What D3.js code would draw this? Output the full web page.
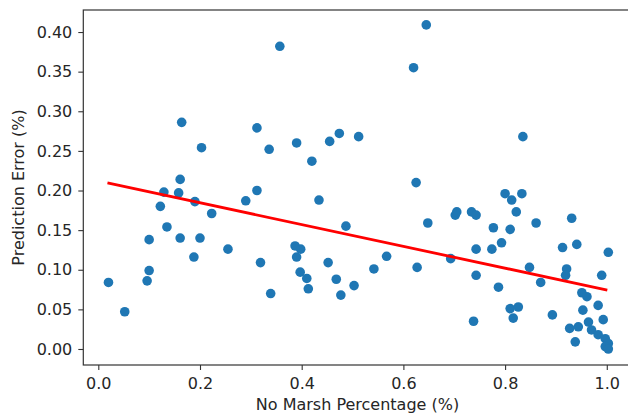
<!DOCTYPE html>
<html><head><meta charset="utf-8">
<script src="https://cdn.jsdelivr.net/npm/d3@7"></script>
<style>
body{margin:0;background:#fff;}
svg{display:block;font-family:"DejaVu Sans",sans-serif;}
</style></head>
<body><svg id="chart" width="628" height="420"></svg>
<script>
const xVals = [0.020,0.052,0.096,0.100,0.100,0.122,0.129,0.135,0.161,0.158,0.161,0.164,0.188,0.190,0.200,0.203,0.223,0.255,0.290,0.312,0.312,0.319,0.336,0.339,0.357,0.390,0.387,0.398,0.390,0.397,0.410,0.413,0.420,0.434,0.452,0.455,0.468,0.474,0.477,0.487,0.503,0.512,0.542,0.567,0.620,0.625,0.627,0.645,0.648,0.693,0.702,0.705,0.734,0.743,0.738,0.743,0.743,0.774,0.777,0.787,0.793,0.800,0.810,0.810,0.813,0.816,0.822,0.826,0.833,0.835,0.848,0.861,0.870,0.893,0.913,0.921,0.919,0.931,0.941,1.003,0.990,0.951,0.961,0.983,0.953,0.993,0.927,0.944,0.964,0.970,0.983,0.997,1.003,0.997,1.003,0.938];
const yVals = [0.084,0.047,0.086,0.099,0.138,0.180,0.198,0.154,0.214,0.197,0.140,0.286,0.116,0.186,0.140,0.254,0.171,0.126,0.187,0.279,0.200,0.109,0.252,0.070,0.382,0.260,0.130,0.126,0.116,0.097,0.089,0.076,0.237,0.188,0.109,0.262,0.088,0.272,0.068,0.155,0.080,0.268,0.101,0.117,0.355,0.210,0.103,0.409,0.159,0.114,0.169,0.173,0.173,0.169,0.035,0.126,0.093,0.126,0.153,0.078,0.134,0.196,0.151,0.051,0.188,0.039,0.173,0.053,0.196,0.268,0.103,0.159,0.084,0.043,0.128,0.101,0.093,0.165,0.132,0.122,0.093,0.071,0.066,0.055,0.049,0.037,0.026,0.028,0.034,0.024,0.018,0.013,0.007,0.003,0.000,0.009];
const fitX = [0.018, 1.001];
const fitY = [0.2095, 0.0744];
const xTicks = [0.0,0.2,0.4,0.6,0.8,1.0];
const yTicks = [0.00,0.05,0.10,0.15,0.20,0.25,0.30,0.35,0.40];
const xLabel = "No Marsh Percentage (%)";
const yLabel = "Prediction Error (%)";

const svg = d3.select("#chart");
const L = 83.3, R = 631.7, T = 10, B = 365;
const x = d3.scaleLinear().domain([-0.0295, 1.049]).range([L, R]);
const y = d3.scaleLinear().domain([-0.0202, 0.4278]).range([B, T]);

const gx = svg.append("g").attr("transform",`translate(0,${B})`)
  .call(d3.axisBottom(x).tickValues(xTicks).tickFormat(d3.format(".1f")).tickSizeOuter(0).tickSize(5).tickPadding(8));
const gy = svg.append("g").attr("transform",`translate(${L},0)`)
  .call(d3.axisLeft(y).tickValues(yTicks).tickFormat(d3.format(".2f")).tickSizeOuter(0).tickSize(5).tickPadding(6));
[gx,gy].forEach(g=>{
  g.selectAll("text").attr("font-size",16).attr("fill","#262626").attr("font-family","DejaVu Sans");
  g.selectAll("line").attr("stroke","#333").attr("stroke-width",1.1);
  g.select(".domain").remove();
});
svg.append("rect").attr("x",L).attr("y",T).attr("width",R-L).attr("height",B-T)
  .attr("fill","none").attr("stroke","#333").attr("stroke-width",1.2);

const pts = xVals.map((v,i)=>({x:v,y:yVals[i]}));
svg.append("g").selectAll("circle").data(pts).join("circle")
  .attr("cx",d=>x(d.x)).attr("cy",d=>y(d.y)).attr("r",4.8).attr("fill","#1f77b4");

svg.append("path").datum(fitX.map((v,i)=>[v,fitY[i]]))
  .attr("d",d3.line().x(d=>x(d[0])).y(d=>y(d[1])))
  .attr("fill","none").attr("stroke","#ff0000").attr("stroke-width",2.8);

svg.append("text").attr("x",(L+R)/2).attr("y",410).attr("text-anchor","middle")
  .attr("font-size",16).attr("fill","#262626").text(xLabel);
svg.append("text").attr("transform",`translate(24,${(T+B)/2}) rotate(-90)`).attr("text-anchor","middle")
  .attr("font-size",16).attr("fill","#262626").text(yLabel);
</script></body></html>
